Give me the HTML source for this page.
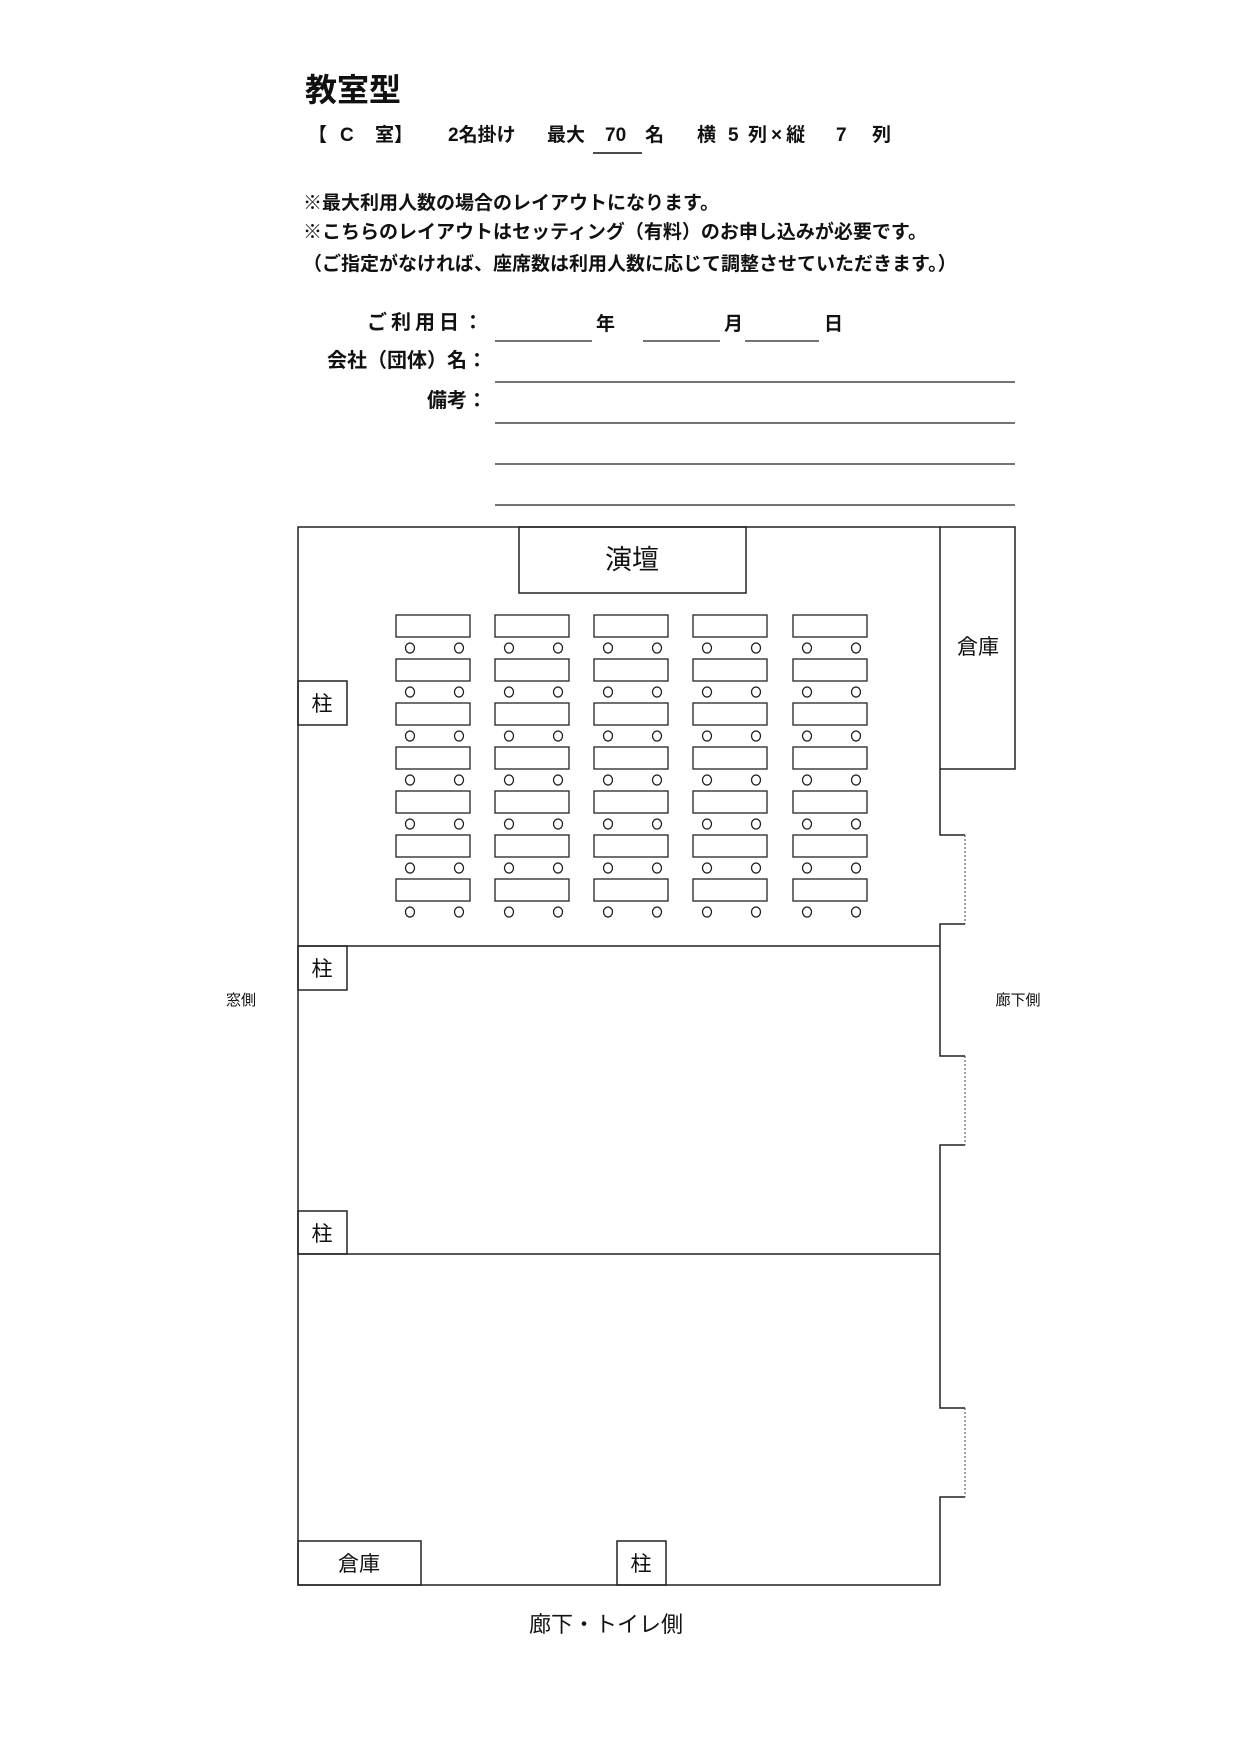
<!DOCTYPE html>
<html><head><meta charset="utf-8"><style>
body{margin:0;background:#fff}
svg{display:block}
text{font-family:"Liberation Sans","Noto Sans CJK JP",sans-serif;fill:#111}
.b{font-weight:bold}
</style></head><body>
<svg width="1241" height="1755" viewBox="0 0 1241 1755" xmlns="http://www.w3.org/2000/svg">
<text x="305" y="101" font-size="32" class="b">教室型</text>
<g font-size="19" class="b">
<text x="308" y="141">【</text>
<text x="340" y="141">C</text>
<text x="375" y="141">室】</text>
<text x="448" y="141">2名掛け</text>
<text x="547" y="141">最大</text>
<text x="605" y="141">70</text>
<text x="645" y="141">名</text>
<text x="697" y="141">横</text>
<text x="728" y="141">5</text>
<text x="748" y="141" letter-spacing="4">列×縦</text>
<text x="836" y="141">7</text>
<text x="872" y="141">列</text>
</g>
<line x1="593" y1="153" x2="642" y2="153" stroke="#111" stroke-width="1.5"/>
<text x="303" y="209" font-size="19" class="b">※最大利用人数の場合のレイアウトになります。</text>
<text x="303" y="238" font-size="19" class="b">※こちらのレイアウトはセッティング（有料）のお申し込みが必要です。</text>
<text x="303" y="270" font-size="19" class="b">（ご指定がなければ、座席数は利用人数に応じて調整させていただきます。）</text>
<text x="487" y="329" font-size="20" class="b" text-anchor="end" letter-spacing="4">ご利用日：</text>
<text x="487" y="367" font-size="20" class="b" text-anchor="end">会社（団体）名：</text>
<text x="487" y="407" font-size="20" class="b" text-anchor="end">備考：</text>
<text x="596" y="330" font-size="19" class="b">年</text>
<text x="724" y="330" font-size="19" class="b">月</text>
<text x="824" y="330" font-size="19" class="b">日</text>
<g stroke="#222" stroke-width="1.3">
<line x1="495" y1="341" x2="592" y2="341"/>
<line x1="643" y1="341" x2="720" y2="341"/>
<line x1="745" y1="341" x2="819" y2="341"/>
<line x1="495" y1="382" x2="1015" y2="382"/>
<line x1="495" y1="423" x2="1015" y2="423"/>
<line x1="495" y1="464" x2="1015" y2="464"/>
<line x1="495" y1="505" x2="1015" y2="505"/>
</g>
<g fill="none" stroke="#222" stroke-width="1.5">
<polyline points="940,527 298,527 298,1585 940,1585 940,1497 965,1497"/>
<rect x="940" y="527" width="75" height="242"/>
<polyline points="940,769 940,835 965,835"/>
<polyline points="965,924 940,924 940,1056 965,1056"/>
<polyline points="965,1145 940,1145 940,1408 965,1408"/>
<line x1="298" y1="946" x2="940" y2="946"/>
<line x1="298" y1="1254" x2="940" y2="1254"/>
<rect x="519" y="527" width="227" height="66"/>
<rect x="298" y="681" width="49" height="44"/>
<rect x="298" y="946" width="49" height="44"/>
<rect x="298" y="1211" width="49" height="43"/>
<rect x="298" y="1541" width="123" height="44"/>
<rect x="617" y="1541" width="49" height="44"/>
</g>
<g stroke="#444" stroke-width="1" stroke-dasharray="2,2">
<line x1="965" y1="835" x2="965" y2="924"/>
<line x1="965" y1="1056" x2="965" y2="1145"/>
<line x1="965" y1="1408" x2="965" y2="1497"/>
</g>
<g id="col" fill="none" stroke="#222" stroke-width="1.3">
<rect x="396" y="615" width="74" height="22"/><ellipse cx="410" cy="648" rx="4.5" ry="5"/><ellipse cx="459" cy="648" rx="4.5" ry="5"/>
<rect x="396" y="659" width="74" height="22"/><ellipse cx="410" cy="692" rx="4.5" ry="5"/><ellipse cx="459" cy="692" rx="4.5" ry="5"/>
<rect x="396" y="703" width="74" height="22"/><ellipse cx="410" cy="736" rx="4.5" ry="5"/><ellipse cx="459" cy="736" rx="4.5" ry="5"/>
<rect x="396" y="747" width="74" height="22"/><ellipse cx="410" cy="780" rx="4.5" ry="5"/><ellipse cx="459" cy="780" rx="4.5" ry="5"/>
<rect x="396" y="791" width="74" height="22"/><ellipse cx="410" cy="824" rx="4.5" ry="5"/><ellipse cx="459" cy="824" rx="4.5" ry="5"/>
<rect x="396" y="835" width="74" height="22"/><ellipse cx="410" cy="868" rx="4.5" ry="5"/><ellipse cx="459" cy="868" rx="4.5" ry="5"/>
<rect x="396" y="879" width="74" height="22"/><ellipse cx="410" cy="912" rx="4.5" ry="5"/><ellipse cx="459" cy="912" rx="4.5" ry="5"/>
</g>
<use href="#col" x="99"/>
<use href="#col" x="198"/>
<use href="#col" x="297"/>
<use href="#col" x="397"/>
<text x="632" y="569" font-size="27" text-anchor="middle">演壇</text>
<text x="978" y="654" font-size="21" text-anchor="middle">倉庫</text>
<text x="322" y="711" font-size="21" text-anchor="middle">柱</text>
<text x="322" y="976" font-size="21" text-anchor="middle">柱</text>
<text x="322" y="1241" font-size="21" text-anchor="middle">柱</text>
<text x="641" y="1571" font-size="21" text-anchor="middle">柱</text>
<text x="359" y="1571" font-size="21" text-anchor="middle">倉庫</text>
<text x="241" y="1005" font-size="15" text-anchor="middle" fill="#333">窓側</text>
<text x="1018" y="1005" font-size="15" text-anchor="middle" fill="#333">廊下側</text>
<text x="606" y="1632" font-size="22" text-anchor="middle" fill="#333">廊下・トイレ側</text>
</svg>
</body></html>
